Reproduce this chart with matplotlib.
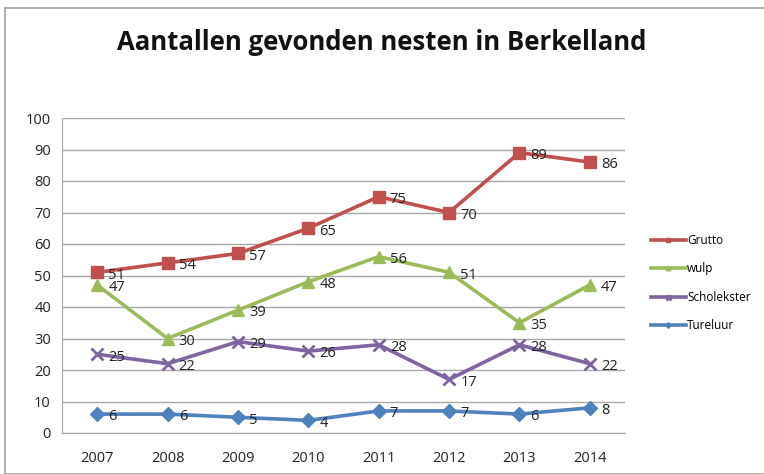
import matplotlib.pyplot as plt
from matplotlib.patches import Rectangle

plt.rcParams['font.family'] = ['Open Sans', 'DejaVu Sans']

years = ['2007', '2008', '2009', '2010', '2011', '2012', '2013', '2014']
grutto = [51, 54, 57, 65, 75, 70, 89, 86]
wulp = [47, 30, 39, 48, 56, 51, 35, 47]
scholekster = [25, 22, 29, 26, 28, 17, 28, 22]
tureluur = [6, 6, 5, 4, 7, 7, 6, 8]

series = [
    ('Grutto', grutto, '#C0504D', 's', 8),
    ('wulp', wulp, '#9BBB59', '^', 8),
    ('Scholekster', scholekster, '#8064A2', 'x', 9),
    ('Tureluur', tureluur, '#4F81BD', 'D', 7),
]

W, H = 764, 474
fig = plt.figure(figsize=(W / 100, H / 100), dpi=100)
fig.patch.set_facecolor('white')

# outer chart frame
fig.add_artist(Rectangle((5 / W, 0), 1, 1 - 8 / H, transform=fig.transFigure,
                         fill=False, edgecolor='#A0A0A0', linewidth=1.2))

ax = fig.add_axes([62 / W, 1 - 433 / H, (625 - 62) / W, (433 - 118) / H])
x = range(len(years))

for name, vals, col, mk, ms in series:
    ax.plot(x, vals, color=col, linewidth=2.6, marker=mk, markersize=ms,
            markeredgewidth=2 if mk == 'x' else 1, label=name)
    for xi, v in zip(x, vals):
        ax.annotate(str(v), (xi, v), xytext=(8, -2), textcoords='offset points',
                    ha='left', va='center', fontsize=10.5, color='#222222')

ax.set_xlim(-0.5, len(years) - 0.5)
ax.set_ylim(0, 100)
ax.set_yticks(range(0, 101, 10))
ax.set_xticks(list(x))
ax.set_xticklabels(years)
ax.grid(axis='y', color='#A8A8A8', linewidth=1)
ax.set_axisbelow(True)
for s in ['top', 'right']:
    ax.spines[s].set_visible(False)
for s in ['left', 'bottom']:
    ax.spines[s].set_color('#A8A8A8')
ax.tick_params(axis='both', length=0, labelsize=10.5, colors='#222222')
ax.tick_params(axis='x', pad=13)
ax.tick_params(axis='y', pad=8)

fig.text(0.5, 1 - 42 / H, 'Aantallen gevonden nesten in Berkelland',
         ha='center', va='center', fontsize=18.5, fontweight='bold', color='#111111')

handles, labels = ax.get_legend_handles_labels()
leg = fig.legend(handles, labels, loc='center left',
                 bbox_to_anchor=(640 / W, 1 - 283 / H), frameon=False,
                 fontsize=8.5, handlelength=3.0, handletextpad=0.1,
                 labelspacing=1.3, markerscale=0.4)

fig.savefig('out.png', dpi=100)
